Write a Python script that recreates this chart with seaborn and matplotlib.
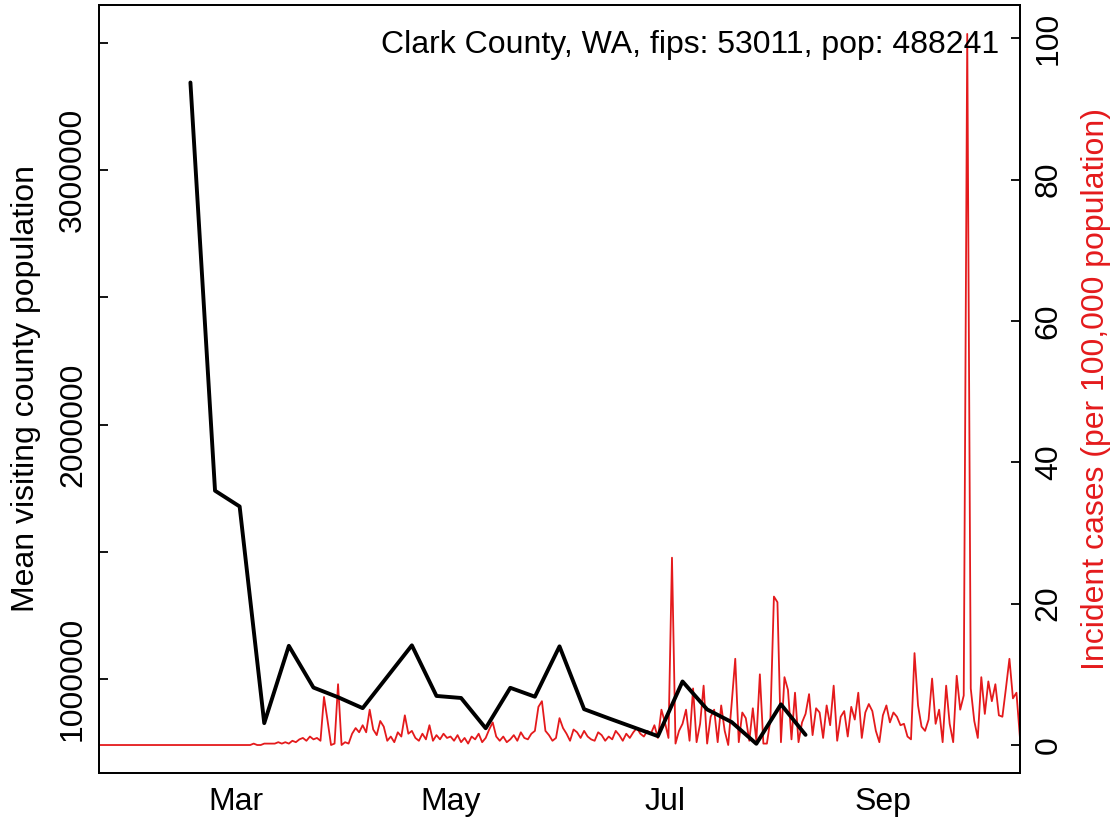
import numpy as np
import pandas as pd
import seaborn as sns
import matplotlib
matplotlib.use("Agg")
import matplotlib.pyplot as plt
import matplotlib.dates as mdates

# weekly mean visiting county population (black line)
visit_dates = ["2020-02-17", "2020-02-24", "2020-03-02", "2020-03-09", "2020-03-16",
               "2020-03-23", "2020-03-30", "2020-04-06", "2020-04-20", "2020-04-27",
               "2020-05-04", "2020-05-11", "2020-05-18", "2020-05-25", "2020-06-01",
               "2020-06-08", "2020-06-15", "2020-06-22", "2020-06-29", "2020-07-06",
               "2020-07-13", "2020-07-20", "2020-07-27", "2020-08-03", "2020-08-10"]
visit_pop = [3345000, 1740000, 1678000, 826000, 1130000,
             966000, 928000, 885000, 1132000, 933000,
             925000, 806000, 965000, 930000, 1128000,
             881000, 845000, 810000, 775000, 990000,
             880000, 830000, 745000, 900000, 780000]

# daily incident cases per 100,000 (red line), Jan 22 - Oct 10
cases_jan = [0] * 10
cases_feb = [0] * 29
cases_mar = [0, 0, 0, 0, 0, 0.2, 0, 0, 0.2, 0.2, 0.2, 0.2, 0.4, 0.2, 0.4, 0.2,
             0.6, 0.4, 0.8, 1.0, 0.6, 1.2, 0.8, 1.0, 0.6, 6.8, 3.5, 0, 0.2, 8.6, 0]
cases_apr = [0.4, 0.2, 1.6, 2.4, 1.8, 2.8, 1.8, 5.0, 2.2, 1.4, 3.4, 2.6, 0.6, 1.2, 0.4,
             1.8, 1.2, 4.2, 1.6, 2.0, 1.0, 0.6, 1.6, 0.8, 2.8, 0.6, 1.4, 0.8, 1.6, 1.0]
cases_may = [1.2, 0.6, 1.4, 0.4, 1.0, 0.2, 1.2, 0.8, 1.6, 0.4, 1.0, 2.2, 3.2, 1.2, 0.6, 1.2,
             0.4, 0.8, 1.4, 0.6, 1.8, 1.0, 0.8, 1.6, 2.0, 5.4, 6.2, 2.0, 1.4, 0.6, 1.0]
cases_jun = [3.8, 2.4, 1.6, 0.6, 2.2, 1.8, 1.0, 2.0, 1.2, 0.8, 0.6, 1.8, 1.4, 0.6, 1.2,
             0.8, 2.0, 1.4, 0.6, 1.6, 1.0, 1.8, 2.4, 1.6, 1.2, 2.0, 1.6, 2.8, 1.0, 5.0]
cases_jul = [3.2, 1.0, 26.5, 0.2, 2.0, 3.0, 5.0, 0.6, 8.0, 0.4, 3.0, 8.4, 0.2, 4.0, 5.0, 0.4,
             5.6, 2.0, 0.0, 6.0, 12.2, 0.4, 4.6, 3.8, 0.6, 5.2, 0.6, 10.0, 0.2, 0.2, 3.6]
cases_aug = [21.0, 20.2, 0.4, 9.6, 7.8, 0.8, 7.4, 0.4, 3.2, 4.4, 7.2, 1.4, 5.2, 4.6, 1.0, 5.6,
             2.8, 8.4, 0.6, 4.0, 4.8, 1.2, 5.4, 3.6, 7.4, 1.0, 4.6, 5.8, 4.8, 2.0, 0.4]
cases_sep = [4.2, 5.6, 3.2, 4.6, 4.0, 2.8, 3.0, 1.2, 0.8, 13.0, 5.6, 2.6, 2.0, 3.6, 9.4,
             3.0, 5.0, 0.4, 8.4, 3.0, 0.4, 9.8, 5.0, 7.0, 100.6, 8.0, 3.4, 1.0, 9.6, 4.4]
cases_oct = [9.0, 6.2, 8.6, 4.2, 4.0, 8.0, 12.2, 6.6, 7.4, 1.0]

title = "Clark County, WA, fips: 53011, pop: 488241"
red = "#E41A1C"

cases = cases_jan + cases_feb + cases_mar + cases_apr + cases_may + cases_jun + \
    cases_jul + cases_aug + cases_sep + cases_oct
case_df = pd.DataFrame({"date": pd.date_range("2020-01-22", periods=len(cases)), "cases": cases})
visit_df = pd.DataFrame({"date": pd.to_datetime(visit_dates), "pop": visit_pop})

sns.set_style("white")
plt.rcParams["font.family"] = ["Liberation Sans", "DejaVu Sans"]
plt.rcParams["text.color"] = "black"
plt.rcParams["axes.labelcolor"] = "black"

fs = 23
fig = plt.figure(figsize=(11.19, 8.22), dpi=100)
ax = fig.add_axes([0.0885, 0.0596, 0.8230, 0.9344])
ax2 = ax.twinx()

sns.lineplot(data=visit_df, x="date", y="pop", color="black", lw=2.8, ax=ax, zorder=3)
sns.lineplot(data=case_df, x="date", y="cases", color=red, lw=1.3, ax=ax2)

# black line above the red one
ax.set_zorder(ax2.get_zorder() + 1)
ax.patch.set_visible(False)

ax.set_xlim(case_df["date"].iloc[0], case_df["date"].iloc[-1])
ax.set_ylim(630000, 3650000)
ax2.set_ylim(-3.96, 104.7)

ax.xaxis.set_major_locator(mdates.MonthLocator(bymonth=[3, 5, 7, 9]))
ax.xaxis.set_major_formatter(mdates.DateFormatter("%b"))

left_ticks = [1000000, 1500000, 2000000, 2500000, 3000000, 3500000]
ax.set_yticks(left_ticks)
ax.set_yticklabels([str(t) if t % 1000000 == 0 else "" for t in left_ticks],
                   rotation=90, va="center")
ax2.set_yticks([0, 20, 40, 60, 80, 100])
ax2.set_yticklabels(["0", "20", "40", "60", "80", "100"], rotation=90, va="center")

for a in (ax, ax2):
    a.tick_params(axis="both", which="major", labelsize=fs, length=6.5, width=1.3,
                  direction="in", pad=8, color="black", labelcolor="black")
    for s in a.spines.values():
        s.set_color("black")
        s.set_linewidth(1.3)

ax.tick_params(axis="x", pad=10)
ax2.tick_params(axis="y", pad=10)
ax.set_xlabel("")
ax.set_ylabel("Mean visiting county population", fontsize=fs, labelpad=12)
ax2.set_ylabel("Incident cases (per 100,000 population)", fontsize=fs, color=red, labelpad=12)

ax.text(0.978, 0.948, title, transform=ax.transAxes, ha="right", va="center",
        fontsize=fs, color="black")

fig.savefig("out.png", dpi=100)
